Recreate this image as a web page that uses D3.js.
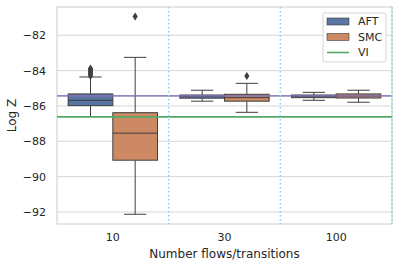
<!DOCTYPE html>
<html>
<head>
<meta charset="utf-8">
<script src="https://cdn.jsdelivr.net/npm/d3@7"></script>
<style>
  body { margin: 0; background: #fff; }
  text { font-family: "DejaVu Sans", sans-serif; fill: #262626; }
</style>
</head>
<body>
<div class="canvas"></div>
<script>
// data
const categories = ['10', '30', '100'];
const hues = ['AFT', 'SMC'];
const hueColors = ['#5875a4', '#cc8963'];

const q1 = { AFT: [-85.98, -85.56, -85.53], SMC: [-89.07, -85.73, -85.55] };
const median = { AFT: [-85.68, -85.47, -85.46], SMC: [-87.54, -85.53, -85.44] };
const q3 = { AFT: [-85.32, -85.38, -85.38], SMC: [-86.38, -85.34, -85.32] };
const whiskLo = { AFT: [-86.6, -85.73, -85.68], SMC: [-92.13, -86.36, -85.79] };
const whiskHi = { AFT: [-84.36, -85.11, -85.23], SMC: [-83.25, -84.72, -85.11] };
const outliers = {
    AFT: [[-83.88, -83.95, -84.02, -84.08, -84.15, -84.22, -84.3], [], []],
    SMC: [[-80.94], [-84.3], []]
};

const refAFT = -85.43;   // purple line
const refVI = -86.62;    // green line, "VI"
const yTicks = [-82, -84, -86, -88, -90, -92];

const W = 398, H = 268;
const margin = { top: 7, right: 6, bottom: 44, left: 57 };
const graphWidth = W - margin.left - margin.right;
const graphHeight = H - margin.top - margin.bottom;

const svg = d3.select('.canvas')
    .append('svg')
    .attr('width', W)
    .attr('height', H);

const graph = svg.append('g')
    .attr('transform', `translate(${margin.left}, ${margin.top})`);

// scales
const y = d3.scaleLinear()
    .domain([-92.68, -80.4])
    .range([graphHeight, 0]);

const x = d3.scaleBand()
    .domain(categories)
    .range([0, graphWidth]);

const hueX = d3.scaleBand()
    .domain(hues)
    .range([0, x.bandwidth() * 0.8]);

// grid
graph.append('g')
    .selectAll('line')
    .data(yTicks)
    .join('line')
    .attr('x1', 0)
    .attr('x2', graphWidth)
    .attr('y1', d => y(d))
    .attr('y2', d => y(d))
    .attr('stroke', '#cccccc')
    .attr('stroke-width', 0.8);

// axes frame
graph.append('rect')
    .attr('width', graphWidth)
    .attr('height', graphHeight)
    .attr('fill', 'none')
    .attr('stroke', '#cccccc')
    .attr('stroke-width', 1);

// axes
const yAxis = d3.axisLeft(y)
    .tickValues(yTicks)
    .tickSize(0)
    .tickPadding(11)
    .tickFormat(d => d3.format('d')(d).replace('-', '\u2212'));
const yAxisGroup = graph.append('g').call(yAxis);

const xAxis = d3.axisBottom(x).tickSize(0).tickPadding(9);
const xAxisGroup = graph.append('g')
    .attr('transform', `translate(0, ${graphHeight})`)
    .call(xAxis);

[yAxisGroup, xAxisGroup].forEach(g => {
    g.select('.domain').remove();
    g.selectAll('text')
        .attr('font-size', 11)
        .attr('font-family', 'DejaVu Sans')
        .attr('fill', '#262626');
});

// boxes
const lineColor = '#3f3f3f';
hues.forEach((h, hi) => {
    categories.forEach((c, ci) => {
        const bx = x(c) + x.bandwidth() * 0.1 + hueX(h);
        const bw = hueX.bandwidth();
        const cx = bx + bw / 2;
        const g = graph.append('g');

        g.append('line')
            .attr('x1', cx).attr('x2', cx)
            .attr('y1', y(q3[h][ci])).attr('y2', y(whiskHi[h][ci]))
            .attr('stroke', lineColor);
        g.append('line')
            .attr('x1', cx).attr('x2', cx)
            .attr('y1', y(q1[h][ci])).attr('y2', y(whiskLo[h][ci]))
            .attr('stroke', lineColor);
        [whiskHi[h][ci], whiskLo[h][ci]].forEach(v => {
            g.append('line')
                .attr('x1', cx - bw / 4).attr('x2', cx + bw / 4)
                .attr('y1', y(v)).attr('y2', y(v))
                .attr('stroke', lineColor);
        });
        g.append('rect')
            .attr('x', bx)
            .attr('width', bw)
            .attr('y', y(q3[h][ci]))
            .attr('height', y(q1[h][ci]) - y(q3[h][ci]))
            .attr('fill', hueColors[hi])
            .attr('stroke', lineColor);
        g.append('line')
            .attr('x1', bx).attr('x2', bx + bw)
            .attr('y1', y(median[h][ci])).attr('y2', y(median[h][ci]))
            .attr('stroke', lineColor);

        g.selectAll('path.fly')
            .data(outliers[h][ci])
            .join('path')
            .attr('class', 'fly')
            .attr('d', 'M0,-4L2.6,0L0,4L-2.6,0Z')
            .attr('transform', d => `translate(${cx}, ${y(d)})`)
            .attr('fill', lineColor);
    });
});

// reference lines
graph.append('line')
    .attr('x1', 0).attr('x2', graphWidth)
    .attr('y1', y(refAFT)).attr('y2', y(refAFT))
    .attr('stroke', '#8172b3')
    .attr('stroke-opacity', 0.85)
    .attr('stroke-width', 1.6);

graph.append('line')
    .attr('x1', 0).attr('x2', graphWidth)
    .attr('y1', y(refVI)).attr('y2', y(refVI))
    .attr('stroke', '#55a868')
    .attr('stroke-width', 1.6);

// dotted separators between groups
graph.append('g')
    .selectAll('line')
    .data(categories)
    .join('line')
    .attr('x1', d => x(d) + x.bandwidth())
    .attr('x2', d => x(d) + x.bandwidth())
    .attr('y1', 0)
    .attr('y2', graphHeight)
    .attr('stroke', '#87ceeb')
    .attr('stroke-width', 1.5)
    .attr('stroke-dasharray', '1.6,2.4');

// labels
svg.append('text')
    .attr('x', margin.left + graphWidth / 2)
    .attr('y', 258)
    .attr('text-anchor', 'middle')
    .attr('font-size', 12)
    .text('Number flows/transitions');

svg.append('text')
    .attr('transform', `translate(16, ${margin.top + graphHeight / 2}) rotate(-90)`)
    .attr('text-anchor', 'middle')
    .attr('font-size', 12)
    .text('Log Z');

// legend
const legend = svg.append('g').attr('transform', 'translate(323, 13)');
legend.append('rect')
    .attr('width', 63)
    .attr('height', 49)
    .attr('rx', 2)
    .attr('fill', '#ffffff')
    .attr('fill-opacity', 0.85)
    .attr('stroke', '#d5d5d5');

const legendItems = [
    { name: 'AFT', type: 'patch', color: hueColors[0] },
    { name: 'SMC', type: 'patch', color: hueColors[1] },
    { name: 'VI', type: 'line', color: '#55a868' }
];
legendItems.forEach((d, i) => {
    const cy = 8.5 + i * 15.5;
    if (d.type === 'patch') {
        legend.append('rect')
            .attr('x', 4).attr('y', cy - 3.5)
            .attr('width', 22).attr('height', 7)
            .attr('fill', d.color)
            .attr('stroke', lineColor)
            .attr('stroke-width', 0.6);
    } else {
        legend.append('line')
            .attr('x1', 4).attr('x2', 26)
            .attr('y1', cy).attr('y2', cy)
            .attr('stroke', d.color)
            .attr('stroke-width', 1.6);
    }
    legend.append('text')
        .attr('x', 35)
        .attr('y', cy)
        .attr('dy', '0.35em')
        .attr('font-size', 11)
        .text(d.name);
});
</script>
</body>
</html>
